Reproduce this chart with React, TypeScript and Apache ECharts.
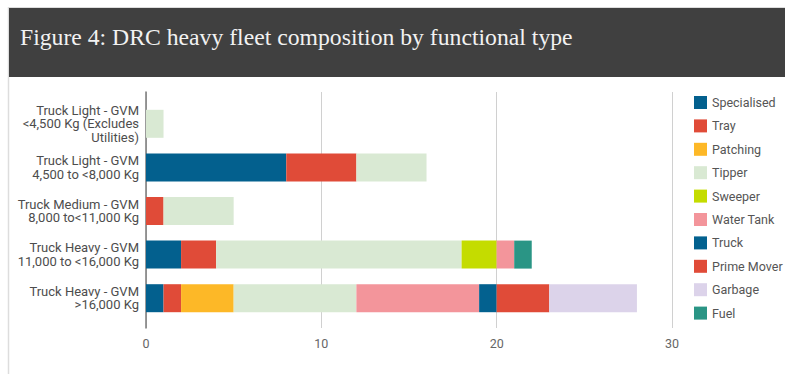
import React, { useEffect, useRef } from "react";
import * as echarts from "echarts";

const title = "Figure 4: DRC heavy fleet composition by functional type";

const categories = [
  "Truck Light - GVM\n<4,500 Kg (Excludes\nUtilities)",
  "Truck Light - GVM\n4,500 to <8,000 Kg",
  "Truck Medium - GVM\n8,000 to<11,000 Kg",
  "Truck Heavy - GVM\n11,000 to <16,000 Kg",
  "Truck Heavy - GVM\n>16,000 Kg",
];

const xTicks = { min: 0, max: 30, interval: 10 };

const specialised = [null, 8, null, 2, 1];
const tray = [null, 4, 1, 2, 1];
const patching = [null, null, null, null, 3];
const tipper = [1, 4, 4, 14, 7];
const sweeper = [null, null, null, 2, null];
const waterTank = [null, null, null, 1, 7];
const truck = [null, null, null, null, 1];
const primeMover = [null, null, null, null, 3];
const garbage = [null, null, null, null, 5];
const fuel = [null, null, null, 1, null];

const seriesDefs: { name: string; data: (number | null)[]; color: string }[] = [
  { name: "Specialised", data: specialised, color: "#03608e" },
  { name: "Tray", data: tray, color: "#e04b38" },
  { name: "Patching", data: patching, color: "#fdb827" },
  { name: "Tipper", data: tipper, color: "#d9e9d3" },
  { name: "Sweeper", data: sweeper, color: "#c4dc00" },
  { name: "Water Tank", data: waterTank, color: "#f3959b" },
  { name: "Truck", data: truck, color: "#03618f" },
  { name: "Prime Mover", data: primeMover, color: "#e04b38" },
  { name: "Garbage", data: garbage, color: "#dcd3ea" },
  { name: "Fuel", data: fuel, color: "#2a9585" },
];

export default function App() {
  const ref = useRef<HTMLDivElement>(null);

  useEffect(() => {
    if (!ref.current) return;
    const chart = echarts.init(ref.current, null, { renderer: "svg" });
    const font = "Roboto, 'Noto Sans', sans-serif";

    chart.setOption({
      animation: false,
      backgroundColor: "#ffffff",
      textStyle: { fontFamily: font },
      graphic: [
        {
          type: "line",
          shape: { x1: 9, y1: 7.5, x2: 785, y2: 7.5 },
          style: { stroke: "#dddddd", lineWidth: 1 },
        },
        {
          type: "line",
          shape: { x1: 8.5, y1: 7, x2: 8.5, y2: 374 },
          style: { stroke: "#dddddd", lineWidth: 1.5 },
        },
        {
          type: "rect",
          shape: { x: 9, y: 8, width: 776, height: 69 },
          style: { fill: "#404040" },
        },
        {
          type: "text",
          x: 20,
          y: 37,
          style: {
            text: title,
            fill: "#f2f2f2",
            font: "23.7px 'Liberation Serif', 'Times New Roman', serif",
            verticalAlign: "middle",
            align: "left",
          },
        },
      ],
      legend: {
        orient: "vertical",
        left: 689,
        top: 91,
        itemWidth: 13,
        itemHeight: 13,
        itemGap: 10.4,
        icon: "rect",
        data: seriesDefs.map((s) => s.name),
        textStyle: {
          color: "#555555",
          fontSize: 12.5,
          fontFamily: font,
          lineHeight: 13,
          padding: [0, 0, 0, 0],
        },
      },
      grid: [
        { left: 146, right: 113, top: 102, height: 218 },
        { left: 146, right: 113, top: 92, height: 236 },
      ],
      xAxis: [
        {
          type: "value",
          gridIndex: 0,
          min: xTicks.min,
          max: xTicks.max,
          interval: xTicks.interval,
          axisLabel: { show: false },
          splitLine: { show: false },
          axisLine: { show: false },
          axisTick: { show: false },
        },
        {
          type: "value",
          gridIndex: 1,
          min: xTicks.min,
          max: xTicks.max,
          interval: xTicks.interval,
          axisLabel: { color: "#666666", fontSize: 12.5, margin: 9, fontFamily: font },
          splitLine: { show: true, lineStyle: { color: "#d0d0d0", width: 1 } },
          axisLine: { show: false },
          axisTick: { show: false },
        },
      ],
      yAxis: [
        {
          type: "category",
          gridIndex: 0,
          data: categories,
          inverse: true,
          axisLine: { show: false },
          axisTick: { show: false },
          axisLabel: {
            color: "#4d4d4d",
            fontSize: 13,
            lineHeight: 13.5,
            margin: 7,
            align: "right",
            fontFamily: font,
          },
        },
        {
          type: "value",
          gridIndex: 1,
          min: 0,
          max: 1,
          axisLabel: { show: false },
          splitLine: { show: false },
          axisTick: { show: false },
          axisLine: { show: true, lineStyle: { color: "#7a7a7a", width: 1.5 } },
        },
      ],
      series: seriesDefs.map((s) => ({
        type: "bar",
        name: s.name,
        stack: "fleet",
        xAxisIndex: 0,
        yAxisIndex: 0,
        data: s.data,
        barWidth: 28,
        itemStyle: { color: s.color },
      })),
    });

    return () => chart.dispose();
  }, []);

  return (
    <div
      ref={ref}
      style={{ position: "absolute", left: 0, top: 0, width: 785, height: 374 }}
    />
  );
}
